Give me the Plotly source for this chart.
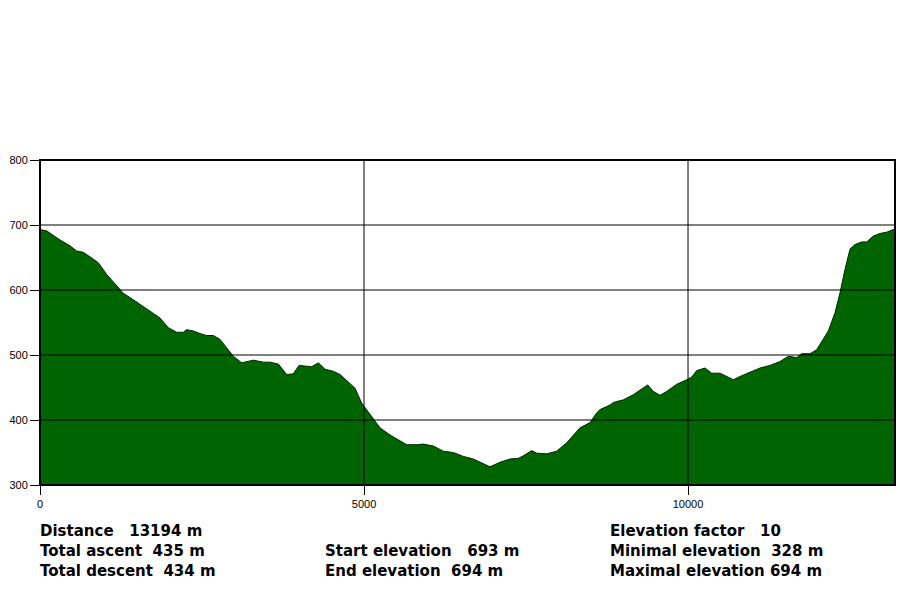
import plotly.graph_objects as go

# Elevation profile (distance in m, elevation in m)
dist_m = [0, 103, 309, 412, 463, 566, 669, 772, 900, 1029, 1157, 1286, 1440, 1595, 1749,
          1852, 1980, 2109, 2212, 2263, 2366, 2469, 2572, 2675, 2778, 2881, 2984, 3112,
          3292, 3447, 3549, 3678, 3807, 3909, 3997, 4192, 4295, 4398, 4527, 4630, 4784,
          4861, 4964, 5093, 5247, 5401, 5556, 5659, 5813, 5916, 6070, 6224, 6379, 6533,
          6687, 6816, 6944, 7099, 7253, 7381, 7459, 7587, 7665, 7819, 7973, 8128, 8333,
          8488, 8591, 8642, 8796, 8848, 9002, 9156, 9285, 9378, 9465, 9568, 9671, 9826,
          9980, 10057, 10134, 10262, 10365, 10494, 10597, 10700, 10803, 10957, 11111,
          11265, 11420, 11548, 11677, 11754, 11882, 11985, 12063, 12165, 12268, 12346,
          12423, 12500, 12577, 12680, 12757, 12860, 12963, 13066, 13194]
elev_m = [693, 691, 677, 671, 668, 660, 658, 651, 642, 624, 609, 595, 585, 575, 564,
          557, 542, 535, 535, 539, 537, 533, 530, 530, 524, 511, 498, 488,
          492, 489, 489, 486, 470, 471, 484, 482, 488, 478, 475, 470, 457,
          449, 426, 408, 388, 377, 368, 362, 362, 363, 360, 352, 350, 344,
          340, 334, 328, 335, 340, 341, 345, 353, 349, 348, 352, 365, 388,
          396, 411, 416, 423, 427, 431, 439, 448, 454, 444, 438, 444, 455,
          462, 466, 476, 480, 472, 472, 467, 462, 467, 473, 480,
          484, 490, 498, 496, 502, 502, 508, 521, 537, 565, 596,
          632, 663, 670, 674, 674, 683, 687, 689, 694]

x_ticks = [0, 5000, 10000]
y_ticks = [300, 400, 500, 600, 700, 800]
x_range = [0, 13194]
y_range = [300, 800]

NB = "\u00a0"
stats_col1 = ["Distance" + NB * 3 + "13194 m", "Total ascent" + NB * 2 + "435 m",
              "Total descent" + NB * 2 + "434 m"]
stats_col2 = ["", "Start elevation" + NB * 3 + "693 m", "End elevation" + NB * 2 + "694 m"]
stats_col3 = ["Elevation factor" + NB * 3 + "10", "Minimal elevation" + NB * 2 + "328 m",
              "Maximal elevation" + NB + "694 m"]

fig = go.Figure()
fig.add_trace(go.Scatter(
    x=dist_m, y=elev_m, mode="lines", fill="tozeroy",
    fillcolor="#006400", line=dict(color="#002800", width=1),
    hoverinfo="skip", showlegend=False,
))

shapes = []
for yv in y_ticks[1:-1]:
    shapes.append(dict(type="line", xref="x", yref="y", x0=x_range[0], x1=x_range[1],
                       y0=yv, y1=yv, line=dict(color="black", width=1), layer="above"))
for xv in x_ticks[1:]:
    shapes.append(dict(type="line", xref="x", yref="y", x0=xv, x1=xv,
                       y0=y_range[0], y1=y_range[1], line=dict(color="black", width=1), layer="above"))
shapes.append(dict(type="rect", xref="paper", yref="paper", x0=0, x1=1, y0=0, y1=1,
                   line=dict(color="black", width=2), layer="above"))

annotations = []
line_y = [-0.1415, -0.203, -0.2645]
for col_x, col in zip([0.0, 0.3333, 0.6667], [stats_col1, stats_col2, stats_col3]):
    for yy, txt in zip(line_y, col):
        if not txt:
            continue
        annotations.append(dict(xref="paper", yref="paper", x=col_x, y=yy,
                                text="<b>" + txt + "</b>",
                                showarrow=False, xanchor="left", yanchor="middle",
                                font=dict(family="DejaVu Sans", size=15, color="black"),
                                xshift=-2))

tickfont = dict(family="Liberation Sans", size=11, color="black")
fig.update_layout(
    width=900, height=600,
    margin=dict(l=40, r=5, t=160, b=115),
    paper_bgcolor="white", plot_bgcolor="white",
    shapes=shapes, annotations=annotations,
    xaxis=dict(range=x_range, tickvals=x_ticks, ticktext=[str(v) for v in x_ticks],
               showgrid=False, zeroline=False, ticks="outside", ticklen=9, tickcolor="black",
               tickwidth=1, tickfont=tickfont, showline=False, fixedrange=True),
    yaxis=dict(range=y_range, tickvals=y_ticks, ticktext=[str(v) for v in y_ticks],
               showgrid=False, zeroline=False, ticks="outside", ticklen=9, tickcolor="black",
               tickwidth=1, tickfont=tickfont, showline=False, fixedrange=True),
)

fig.write_html("out.html")
